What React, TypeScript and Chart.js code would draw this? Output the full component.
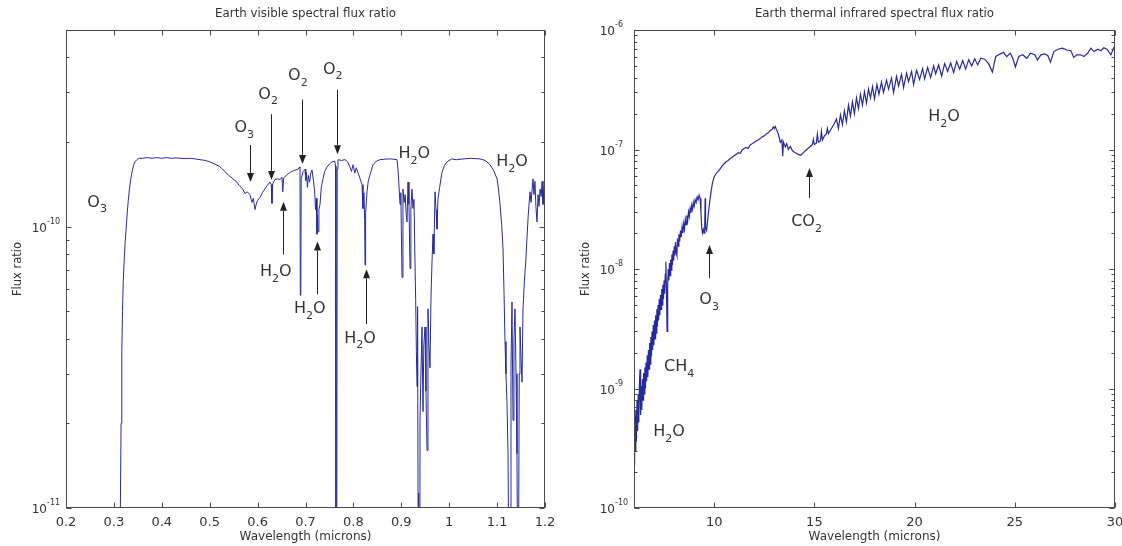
import React, { useEffect, useRef } from 'react';
import { Chart, registerables } from 'chart.js';

Chart.register(...registerables);

// ---- Visible band: wavelength (microns) and flux ratio ----
const VIS_WAVELENGTH = [
  0.312, 0.315, 0.3165, 0.318, 0.3195, 0.3215, 0.3235, 0.3255, 0.3275, 0.33,
  0.3325, 0.335, 0.3378, 0.341, 0.3441, 0.348, 0.352, 0.36, 0.37, 0.38,
  0.39, 0.4, 0.41, 0.42, 0.43, 0.44, 0.45, 0.46, 0.47, 0.48,
  0.49, 0.5, 0.51, 0.52, 0.53, 0.54, 0.5486, 0.555, 0.562, 0.569,
  0.5737, 0.578, 0.5841, 0.588, 0.591, 0.5946, 0.597, 0.6, 0.605, 0.61,
  0.615, 0.62, 0.6259, 0.6285, 0.63, 0.6315, 0.6363, 0.642, 0.647, 0.6509,
  0.6525, 0.6545, 0.6614, 0.668, 0.675, 0.6843, 0.6875, 0.6885, 0.6892, 0.6902,
  0.691, 0.695, 0.699, 0.7005, 0.702, 0.704, 0.706, 0.7085, 0.711, 0.7136,
  0.7165, 0.719, 0.721, 0.7225, 0.724, 0.725, 0.7262, 0.728, 0.7303, 0.733,
  0.7365, 0.74, 0.7449, 0.75, 0.7553, 0.761, 0.7628, 0.7636, 0.7652, 0.7662,
  0.7678, 0.775, 0.7825, 0.788, 0.7929, 0.796, 0.7992, 0.803, 0.806, 0.81,
  0.814, 0.818, 0.82, 0.822, 0.8235, 0.8243, 0.8255, 0.8284, 0.831, 0.8347,
  0.8409, 0.848, 0.8555, 0.87, 0.88, 0.891, 0.8931, 0.895, 0.8973, 0.899,
  0.9015, 0.9035, 0.906, 0.908, 0.91, 0.9119, 0.914, 0.916, 0.9182, 0.92,
  0.9223, 0.9244, 0.9265, 0.9286, 0.93, 0.9315, 0.9328, 0.934, 0.9349, 0.9362,
  0.9375, 0.939, 0.941, 0.9432, 0.9453, 0.947, 0.9495, 0.9515, 0.9537, 0.9557,
  0.9578, 0.9599, 0.962, 0.9641, 0.9662, 0.968, 0.9704, 0.9725, 0.9745, 0.9766,
  0.98, 0.985, 0.99, 0.9954, 1.005, 1.015, 1.0288, 1.045, 1.0643, 1.075,
  1.0852, 1.093, 1.0998, 1.103, 1.1061, 1.1095, 1.1123, 1.1145, 1.1165, 1.1185,
  1.1207, 1.1228, 1.125, 1.127, 1.129, 1.1311, 1.1332, 1.1352, 1.1374, 1.1395,
  1.1415, 1.143, 1.1445, 1.1462, 1.1478, 1.15, 1.152, 1.1541, 1.157, 1.16,
  1.1624, 1.165, 1.1687, 1.171, 1.1749, 1.177, 1.179, 1.181, 1.1833, 1.1855,
  1.1875, 1.1896, 1.192, 1.194, 1.1958, 1.198, 1.2,
];
const VIS_FLUX = [
  5e-12, 2.0e-11, 3.6e-11, 5.0e-11, 6.4e-11, 7.6e-11, 8.8e-11, 9.8e-11, 1.1e-10, 1.24e-10,
  1.36e-10, 1.47e-10, 1.56e-10, 1.65e-10, 1.7e-10, 1.73e-10, 1.75e-10, 1.75e-10, 1.76e-10, 1.75e-10,
  1.76e-10, 1.75e-10, 1.76e-10, 1.75e-10, 1.755e-10, 1.75e-10, 1.745e-10, 1.75e-10, 1.74e-10, 1.73e-10,
  1.72e-10, 1.7e-10, 1.67e-10, 1.64e-10, 1.58e-10, 1.52e-10, 1.48e-10, 1.45e-10, 1.4e-10, 1.36e-10,
  1.31e-10, 1.33e-10, 1.3e-10, 1.22e-10, 1.26e-10, 1.15e-10, 1.2e-10, 1.24e-10, 1.27e-10, 1.32e-10,
  1.36e-10, 1.4e-10, 1.44e-10, 1.41e-10, 1.21e-10, 1.42e-10, 1.47e-10, 1.48e-10, 1.47e-10, 1.5e-10,
  1.33e-10, 1.49e-10, 1.53e-10, 1.56e-10, 1.58e-10, 1.6e-10, 1.63e-10, 1.62e-10, 5.7e-11, 6.0e-11,
  1.48e-10, 1.57e-10, 1.6e-10, 1.46e-10, 1.56e-10, 1.38e-10, 1.52e-10, 1.44e-10, 1.55e-10, 1.59e-10,
  1.46e-10, 1.34e-10, 1.15e-10, 1.26e-10, 9.4e-11, 1.1e-10, 9.6e-11, 1.15e-10, 1.2e-10, 1.38e-10,
  1.48e-10, 1.57e-10, 1.63e-10, 1.67e-10, 1.7e-10, 1.71e-10, 1.64e-10, 5e-12, 5e-12, 1.6e-10,
  1.73e-10, 1.72e-10, 1.73e-10, 1.7e-10, 1.63e-10, 1.57e-10, 1.66e-10, 1.55e-10, 1.62e-10, 1.55e-10,
  1.48e-10, 1.41e-10, 1.16e-10, 1.32e-10, 1.05e-10, 7.3e-11, 1.12e-10, 1.33e-10, 1.45e-10, 1.53e-10,
  1.66e-10, 1.71e-10, 1.73e-10, 1.74e-10, 1.74e-10, 1.73e-10, 1.6e-10, 1.42e-10, 1.2e-10, 1.32e-10,
  6.6e-11, 1.36e-10, 1.22e-10, 1.3e-10, 1.12e-10, 1.04e-10, 1.44e-10, 1.2e-10, 7.1e-11, 1.15e-10,
  1.36e-10, 1.16e-10, 1.25e-10, 7.5e-11, 5.5e-11, 3.6e-11, 2.7e-11, 5.2e-11, 1.13e-11, 5e-12,
  5e-12, 2.05e-11, 3.0e-11, 4.4e-11, 2.2e-11, 3.8e-11, 4.4e-11, 2.6e-11, 1.6e-11, 5.1e-11,
  3.8e-11, 3.15e-11, 5.6e-11, 7.5e-11, 9.4e-11, 8.0e-11, 1.33e-10, 1.15e-10, 9.8e-11, 1.26e-10,
  1.38e-10, 1.56e-10, 1.65e-10, 1.7e-10, 1.74e-10, 1.73e-10, 1.74e-10, 1.75e-10, 1.74e-10, 1.72e-10,
  1.66e-10, 1.58e-10, 1.48e-10, 1.36e-10, 1.2e-10, 1.02e-10, 8.4e-11, 5.8e-11, 3.9e-11, 3.0e-11,
  2.35e-11, 1.56e-11, 5e-12, 5e-12, 3.2e-11, 5.4e-11, 2.05e-11, 4.0e-11, 5.1e-11, 3.0e-11,
  1.56e-11, 5e-12, 5e-12, 3.0e-11, 4.4e-11, 3.4e-11, 2.8e-11, 5.1e-11, 6.4e-11, 7.6e-11,
  9.1e-11, 1.1e-10, 1.33e-10, 1.22e-10, 1.48e-10, 1.3e-10, 1.45e-10, 1.18e-10, 1.04e-10, 1.3e-10,
  1.18e-10, 1.36e-10, 1.28e-10, 1.45e-10, 1.2e-10, 1.38e-10, 1.41e-10,
];

// ---- Thermal infrared band: wavelength (microns) and flux ratio ----
const IR_WAVELENGTH = [
  6.0, 6.03, 6.06, 6.09, 6.12, 6.15, 6.18, 6.21, 6.24, 6.27,
  6.3, 6.33, 6.36, 6.39, 6.42, 6.45, 6.48, 6.51, 6.54, 6.57,
  6.6, 6.63, 6.66, 6.69, 6.72, 6.75, 6.78, 6.81, 6.84, 6.87,
  6.9, 6.93, 6.96, 6.99, 7.02, 7.05, 7.08, 7.11, 7.14, 7.17,
  7.2, 7.23, 7.26, 7.29, 7.32, 7.35, 7.38, 7.41, 7.44, 7.47,
  7.5, 7.53, 7.56, 7.59, 7.62, 7.65, 7.68, 7.71, 7.74, 7.77,
  7.8, 7.83, 7.86, 7.89, 7.92, 7.95, 7.98, 8.01, 8.04, 8.07,
  8.1, 8.14, 8.17, 8.2, 8.24, 8.28, 8.32, 8.36, 8.4, 8.44,
  8.48, 8.52, 8.56, 8.6, 8.64, 8.68, 8.72, 8.76, 8.8, 8.84,
  8.88, 8.92, 8.96, 9.0, 9.05, 9.1, 9.15, 9.2, 9.25, 9.3,
  9.34, 9.38, 9.42, 9.46, 9.5, 9.53, 9.55, 9.57, 9.62, 9.67,
  9.72, 9.78, 9.85, 9.92, 10.0, 10.1, 10.2, 10.3, 10.4, 10.5,
  10.6, 10.7, 10.8, 10.9, 11.0, 11.1, 11.2, 11.3, 11.4, 11.5,
  11.6, 11.7, 11.8, 11.9, 12.0, 12.1, 12.2, 12.3, 12.4, 12.5,
  12.6, 12.7, 12.8, 12.9, 12.95, 13.0, 13.05, 13.1, 13.2, 13.3,
  13.38, 13.42, 13.46, 13.55, 13.62, 13.7, 13.8, 13.9, 14.0, 14.1,
  14.2, 14.3, 14.4, 14.5, 14.6, 14.7, 14.8, 14.9, 14.95, 15.0,
  15.1, 15.15, 15.2, 15.3, 15.35, 15.4, 15.5, 15.6, 15.65, 15.7,
  15.8, 15.9, 16.0, 16.1, 16.2, 16.3, 16.4, 16.5, 16.6, 16.7,
  16.8, 16.9, 17.0, 17.1, 17.2, 17.3, 17.4, 17.5, 17.6, 17.7,
  17.8, 17.9, 18.0, 18.12, 18.22, 18.35, 18.45, 18.6, 18.7, 18.85,
  18.95, 19.1, 19.2, 19.35, 19.45, 19.6, 19.7, 19.85, 19.95, 20.1,
  20.25, 20.4, 20.5, 20.65, 20.8, 20.95, 21.05, 21.2, 21.35, 21.5,
  21.65, 21.8, 21.95, 22.1, 22.25, 22.4, 22.55, 22.7, 22.85, 23.0,
  23.15, 23.3, 23.5, 23.7, 23.88, 24.05, 24.2, 24.43, 24.6, 24.78,
  24.9, 25.03, 25.2, 25.4, 25.6, 25.78, 26.0, 26.13, 26.3, 26.5,
  26.65, 26.78, 26.95, 27.15, 27.38, 27.6, 27.8, 27.94, 28.1, 28.29,
  28.45, 28.64, 28.8, 28.95, 29.14, 29.3, 29.44, 29.6, 29.79, 29.94,
  30.0,
];
const IR_FLUX = [
  2.3e-10, 6.0e-10, 3.0e-10, 6.6e-10, 3.6e-10, 8.0e-10, 4.4e-10, 9.0e-10, 5.2e-10, 1.1e-9,
  1.45e-9, 6.0e-10, 1.05e-9, 6.6e-10, 1.2e-9, 8.0e-10, 1.35e-9, 9.0e-10, 1.5e-9, 1.0e-9,
  1.65e-9, 1.15e-9, 1.9e-9, 1.25e-9, 2.1e-9, 1.45e-9, 2.4e-9, 1.6e-9, 2.7e-9, 1.85e-9,
  3.0e-9, 2.1e-9, 3.4e-9, 2.3e-9, 3.7e-9, 2.6e-9, 4.1e-9, 2.9e-9, 4.6e-9, 3.3e-9,
  5.0e-9, 3.7e-9, 5.6e-9, 4.1e-9, 6.1e-9, 4.6e-9, 6.8e-9, 5.0e-9, 7.4e-9, 5.6e-9,
  8.0e-9, 6.2e-9, 9.0e-9, 1.15e-8, 6.5e-9, 3.0e-9, 7.5e-9, 1.0e-8, 8.0e-9, 1.12e-8,
  8.8e-9, 1.2e-8, 9.8e-9, 1.32e-8, 1.08e-8, 1.42e-8, 1.18e-8, 1.55e-8, 1.3e-8, 1.68e-8,
  1.4e-8, 1.3e-8, 1.8e-8, 1.55e-8, 1.95e-8, 1.7e-8, 2.1e-8, 1.85e-8, 2.25e-8, 2.0e-8,
  2.4e-8, 2.15e-8, 2.6e-8, 2.35e-8, 2.8e-8, 2.55e-8, 3.0e-8, 2.75e-8, 3.2e-8, 2.95e-8,
  3.4e-8, 3.15e-8, 3.6e-8, 3.35e-8, 3.8e-8, 3.6e-8, 4.0e-8, 3.8e-8, 4.15e-8, 3.9e-8,
  3.0e-8, 2.2e-8, 2.0e-8, 2.15e-8, 2.0e-8, 2.4e-8, 3.9e-8, 2.2e-8, 2.1e-8, 2.5e-8,
  3.0e-8, 3.7e-8, 4.5e-8, 5.3e-8, 5.9e-8, 6.3e-8, 6.6e-8, 6.9e-8, 7.3e-8, 7.6e-8,
  7.9e-8, 8.1e-8, 8.4e-8, 8.6e-8, 8.9e-8, 9.1e-8, 9.4e-8, 9.3e-8, 9.9e-8, 1.02e-7,
  1.04e-7, 1.02e-7, 1.09e-7, 1.12e-7, 1.15e-7, 1.18e-7, 1.2e-7, 1.24e-7, 1.28e-7, 1.3e-7,
  1.35e-7, 1.38e-7, 1.44e-7, 1.48e-7, 1.55e-7, 1.5e-7, 1.56e-7, 1.48e-7, 1.35e-7, 1.15e-7,
  1.2e-7, 8.8e-8, 1.15e-7, 1.05e-7, 1.12e-7, 1.0e-7, 1.06e-7, 9.8e-8, 9.5e-8, 9.3e-8,
  9.1e-8, 8.95e-8, 9.2e-8, 9.6e-8, 9.9e-8, 1.03e-7, 1.06e-7, 1.1e-7, 1.22e-7, 1.1e-7,
  1.13e-7, 1.35e-7, 1.15e-7, 1.18e-7, 1.42e-7, 1.2e-7, 1.3e-7, 1.35e-7, 1.5e-7, 1.36e-7,
  1.45e-7, 1.55e-7, 1.65e-7, 1.8e-7, 1.5e-7, 1.95e-7, 1.62e-7, 2.1e-7, 1.7e-7, 2.35e-7,
  1.9e-7, 2.5e-7, 2.0e-7, 2.7e-7, 2.2e-7, 2.9e-7, 2.35e-7, 3.05e-7, 2.45e-7, 3.2e-7,
  2.7e-7, 3.35e-7, 2.65e-7, 3.5e-7, 2.9e-7, 3.65e-7, 3.0e-7, 3.8e-7, 3.2e-7, 3.95e-7,
  3.0e-7, 4.1e-7, 3.4e-7, 4.25e-7, 3.3e-7, 4.35e-7, 3.7e-7, 4.5e-7, 3.5e-7, 4.6e-7,
  3.85e-7, 4.75e-7, 3.9e-7, 4.85e-7, 4.0e-7, 5.0e-7, 4.3e-7, 5.1e-7, 4.1e-7, 5.25e-7,
  4.5e-7, 5.3e-7, 4.4e-7, 5.45e-7, 4.7e-7, 5.55e-7, 4.7e-7, 5.65e-7, 5.0e-7, 5.75e-7,
  5.1e-7, 5.8e-7, 5.7e-7, 5.2e-7, 4.45e-7, 6.0e-7, 6.2e-7, 6.5e-7, 6.0e-7, 6.4e-7,
  5.8e-7, 4.9e-7, 6.0e-7, 6.2e-7, 5.8e-7, 6.4e-7, 6.2e-7, 5.6e-7, 6.2e-7, 6.3e-7,
  6.1e-7, 5.4e-7, 6.6e-7, 6.9e-7, 7.05e-7, 6.8e-7, 6.7e-7, 5.9e-7, 6.2e-7, 6.2e-7,
  6.0e-7, 6.4e-7, 7.05e-7, 6.6e-7, 6.9e-7, 6.7e-7, 7.1e-7, 6.9e-7, 6.2e-7, 7.1e-7,
  6.9e-7,
];

// ---- Axis ticks ----
const VIS_X_TICKS = [0.2, 0.3, 0.4, 0.5, 0.6, 0.7, 0.8, 0.9, 1.0, 1.1, 1.2];
const IR_X_TICKS = [10, 15, 20, 25, 30];
const VIS_DECADES = [-11, -10];
const IR_DECADES = [-10, -9, -8, -7, -6];

// ---- Band annotations (formula parts placed at wavelength / flux) ----
const VIS_LABELS = [
  { main: 'O', sub: '3', tail: '', wl: 0.265, flux: 1.22e-10 },
  { main: 'O', sub: '3', tail: '', wl: 0.572, flux: 2.24e-10 },
  { main: 'O', sub: '2', tail: '', wl: 0.622, flux: 2.95e-10 },
  { main: 'O', sub: '2', tail: '', wl: 0.684, flux: 3.44e-10 },
  { main: 'O', sub: '2', tail: '', wl: 0.757, flux: 3.62e-10 },
  { main: 'H', sub: '2', tail: 'O', wl: 0.638, flux: 6.9e-11 },
  { main: 'H', sub: '2', tail: 'O', wl: 0.709, flux: 5.1e-11 },
  { main: 'H', sub: '2', tail: 'O', wl: 0.814, flux: 4.0e-11 },
  { main: 'H', sub: '2', tail: 'O', wl: 0.927, flux: 1.81e-10 },
  { main: 'H', sub: '2', tail: 'O', wl: 1.131, flux: 1.7e-10 },
];
const VIS_ARROWS = [
  { wl: 0.584, from: 1.95e-10, to: 1.44e-10 },
  { wl: 0.628, from: 2.51e-10, to: 1.466e-10 },
  { wl: 0.693, from: 2.83e-10, to: 1.67e-10 },
  { wl: 0.766, from: 3.07e-10, to: 1.81e-10 },
  { wl: 0.653, from: 7.96e-11, to: 1.225e-10 },
  { wl: 0.724, from: 5.75e-11, to: 8.85e-11 },
  { wl: 0.826, from: 4.5e-11, to: 7.05e-11 },
];
const IR_LABELS = [
  { main: 'H', sub: '2', tail: 'O', wl: 21.47, flux: 1.87e-7 },
  { main: 'CO', sub: '2', tail: '', wl: 14.61, flux: 2.47e-8 },
  { main: 'O', sub: '3', tail: '', wl: 9.75, flux: 5.5e-9 },
  { main: 'CH', sub: '4', tail: '', wl: 8.25, flux: 1.51e-9 },
  { main: 'H', sub: '2', tail: 'O', wl: 7.75, flux: 4.32e-10 },
];
const IR_ARROWS = [
  { wl: 14.71, from: 3.93e-8, to: 7.0e-8 },
  { wl: 9.75, from: 8.4e-9, to: 1.59e-8 },
];

const FONT = '"DejaVu Sans", sans-serif';
const TEXT = '#333333';
const LINE = '#262b9c';
const HEIGHT = 546;

type Formula = { main: string; sub: string; tail: string; wl: number; flux: number };
type Arrow = { wl: number; from: number; to: number };

type PanelConfig = {
  title: string;
  width: number;
  yAxisWidth: number;
  rightPad: number;
  xMin: number;
  xMax: number;
  yMin: number;
  yMax: number;
  xTicks: number[];
  decades: number[];
  wavelength: number[];
  flux: number[];
  labels: Formula[];
  arrows: Arrow[];
  lineWidth: number;
  formatX: (v: number) => string;
};

function drawFormula(ctx: CanvasRenderingContext2D, f: Formula, cx: number, cy: number) {
  ctx.font = `16px ${FONT}`;
  const w1 = ctx.measureText(f.main).width;
  const w3 = ctx.measureText(f.tail).width;
  ctx.font = `11px ${FONT}`;
  const w2 = ctx.measureText(f.sub).width;
  let x = cx - (w1 + w2 + w3) / 2;
  ctx.textAlign = 'left';
  ctx.textBaseline = 'middle';
  ctx.fillStyle = TEXT;
  ctx.font = `16px ${FONT}`;
  ctx.fillText(f.main, x, cy);
  x += w1;
  ctx.font = `11px ${FONT}`;
  ctx.fillText(f.sub, x, cy + 7);
  x += w2;
  if (f.tail) {
    ctx.font = `16px ${FONT}`;
    ctx.fillText(f.tail, x, cy);
  }
}

function drawArrow(ctx: CanvasRenderingContext2D, x: number, y0: number, y1: number) {
  const dir = y1 > y0 ? 1 : -1;
  const head = 9;
  const px = Math.round(x) + 0.5;
  ctx.strokeStyle = '#222';
  ctx.fillStyle = '#222';
  ctx.lineWidth = 1;
  ctx.beginPath();
  ctx.moveTo(px, y0);
  ctx.lineTo(px, y1 - dir * head);
  ctx.stroke();
  ctx.beginPath();
  ctx.moveTo(px, y1);
  ctx.lineTo(px - 3.5, y1 - dir * head);
  ctx.lineTo(px + 3.5, y1 - dir * head);
  ctx.closePath();
  ctx.fill();
}

function framePlugin(cfg: PanelConfig) {
  return {
    id: 'spectrumFrame',
    afterDraw(chart: any) {
      const { ctx, chartArea: a, scales } = chart;
      const xs = scales.x;
      const ys = scales.y;
      const L = Math.round(a.left) + 0.5;
      const R = Math.round(a.right) - 0.5;
      const T = Math.round(a.top) + 0.5;
      const B = Math.round(a.bottom) - 0.5;
      ctx.save();

      // box
      ctx.strokeStyle = '#4a4a4a';
      ctx.lineWidth = 1;
      ctx.strokeRect(L, T, R - L, B - T);

      // inward x ticks on bottom and top
      ctx.beginPath();
      cfg.xTicks.forEach((v) => {
        const px = Math.round(xs.getPixelForValue(v)) + 0.5;
        ctx.moveTo(px, B);
        ctx.lineTo(px, B - 5);
        ctx.moveTo(px, T);
        ctx.lineTo(px, T + 5);
      });
      // inward log ticks on left and right
      const lo = Math.floor(Math.log10(cfg.yMin));
      const hi = Math.ceil(Math.log10(cfg.yMax));
      for (let d = lo; d <= hi; d++) {
        for (let m = 1; m <= 9; m++) {
          const v = m * Math.pow(10, d);
          if (v < cfg.yMin * 0.999 || v > cfg.yMax * 1.001) continue;
          const py = Math.round(ys.getPixelForValue(v)) + 0.5;
          const len = m === 1 ? 5 : 3;
          ctx.moveTo(L, py);
          ctx.lineTo(L + len, py);
          ctx.moveTo(R, py);
          ctx.lineTo(R - len, py);
        }
      }
      ctx.stroke();

      // decade labels
      ctx.fillStyle = TEXT;
      cfg.decades.forEach((d) => {
        const py = ys.getPixelForValue(Math.pow(10, d));
        const xr = a.left - 19;
        ctx.textAlign = 'right';
        ctx.textBaseline = 'middle';
        ctx.font = `12px ${FONT}`;
        ctx.fillText('10', xr, py + 2);
        ctx.textAlign = 'left';
        ctx.font = `8px ${FONT}`;
        ctx.fillText(`-${-d}`, xr, py - 5);
      });

      // titles
      const cx = (a.left + a.right) / 2;
      ctx.textAlign = 'center';
      ctx.textBaseline = 'middle';
      ctx.font = `11.8px ${FONT}`;
      ctx.fillText(cfg.title, cx, 14);
      ctx.font = `12px ${FONT}`;
      ctx.fillText('Wavelength (microns)', cx, 537);
      ctx.save();
      ctx.translate(a.left - 48, (a.top + a.bottom) / 2);
      ctx.rotate(-Math.PI / 2);
      ctx.font = `11.5px ${FONT}`;
      ctx.fillText('Flux ratio', 0, 0);
      ctx.restore();

      // band annotations
      cfg.arrows.forEach((ar) => {
        drawArrow(
          ctx,
          xs.getPixelForValue(ar.wl),
          ys.getPixelForValue(ar.from),
          ys.getPixelForValue(ar.to)
        );
      });
      cfg.labels.forEach((f) => {
        drawFormula(ctx, f, xs.getPixelForValue(f.wl), ys.getPixelForValue(f.flux));
      });
      ctx.restore();
    },
  };
}

function SpectrumPanel({ cfg }: { cfg: PanelConfig }) {
  const ref = useRef<HTMLCanvasElement>(null);
  useEffect(() => {
    const canvas = ref.current;
    if (!canvas) return;
    const chart = new Chart(canvas, {
      type: 'line',
      data: {
        datasets: [
          {
            data: cfg.wavelength.map((x, i) => ({ x, y: cfg.flux[i] })),
            borderColor: LINE,
            borderWidth: cfg.lineWidth,
            pointRadius: 0,
            fill: false,
            tension: 0,
          },
        ],
      },
      options: {
        animation: false,
        responsive: false,
        events: [],
        layout: { padding: { top: 30, right: cfg.rightPad, left: 0, bottom: 0 } },
        plugins: {
          legend: { display: false },
          tooltip: { enabled: false },
          title: { display: false },
        },
        scales: {
          x: {
            type: 'linear',
            min: cfg.xMin,
            max: cfg.xMax,
            grid: { display: false, drawTicks: false },
            border: { display: false },
            afterBuildTicks: (s: any) => {
              s.ticks = cfg.xTicks.map((value) => ({ value }));
            },
            afterFit: (s: any) => {
              s.height = HEIGHT - 508;
              s.paddingLeft = 0;
              s.paddingRight = 0;
            },
            ticks: {
              autoSkip: false,
              maxRotation: 0,
              padding: 7,
              color: TEXT,
              font: { family: FONT, size: 13 },
              callback: (v: any) => cfg.formatX(Number(v)),
            },
          },
          y: {
            type: 'logarithmic',
            min: cfg.yMin,
            max: cfg.yMax,
            grid: { display: false, drawTicks: false },
            border: { display: false },
            ticks: { display: false },
            afterFit: (s: any) => {
              s.width = cfg.yAxisWidth;
              s.paddingTop = 0;
              s.paddingBottom = 0;
            },
          },
        },
      },
      plugins: [framePlugin(cfg)],
    } as any);
    return () => chart.destroy();
  }, [cfg]);
  return (
    <canvas
      ref={ref}
      width={cfg.width}
      height={HEIGHT}
      style={{ display: 'block', width: cfg.width, height: HEIGHT }}
    />
  );
}

const VISIBLE: PanelConfig = {
  title: 'Earth visible spectral flux ratio',
  width: 560,
  yAxisWidth: 66,
  rightPad: 15,
  xMin: 0.2,
  xMax: 1.2,
  yMin: 1e-11,
  yMax: 5e-10,
  xTicks: VIS_X_TICKS,
  decades: VIS_DECADES,
  wavelength: VIS_WAVELENGTH,
  flux: VIS_FLUX,
  labels: VIS_LABELS,
  arrows: VIS_ARROWS,
  lineWidth: 1,
  formatX: (v) => String(Number(v.toFixed(1))),
};

const INFRARED: PanelConfig = {
  title: 'Earth thermal infrared spectral flux ratio',
  width: 562,
  yAxisWidth: 74,
  rightPad: 7,
  xMin: 6,
  xMax: 30,
  yMin: 1e-10,
  yMax: 1e-6,
  xTicks: IR_X_TICKS,
  decades: IR_DECADES,
  wavelength: IR_WAVELENGTH,
  flux: IR_FLUX,
  labels: IR_LABELS,
  arrows: IR_ARROWS,
  lineWidth: 1.2,
  formatX: (v) => String(v),
};

export default function App() {
  return (
    <div
      style={{
        position: 'absolute',
        left: 0,
        top: 0,
        width: 1122,
        height: HEIGHT,
        background: '#ffffff',
        display: 'flex',
      }}
    >
      <SpectrumPanel cfg={VISIBLE} />
      <SpectrumPanel cfg={INFRARED} />
    </div>
  );
}
